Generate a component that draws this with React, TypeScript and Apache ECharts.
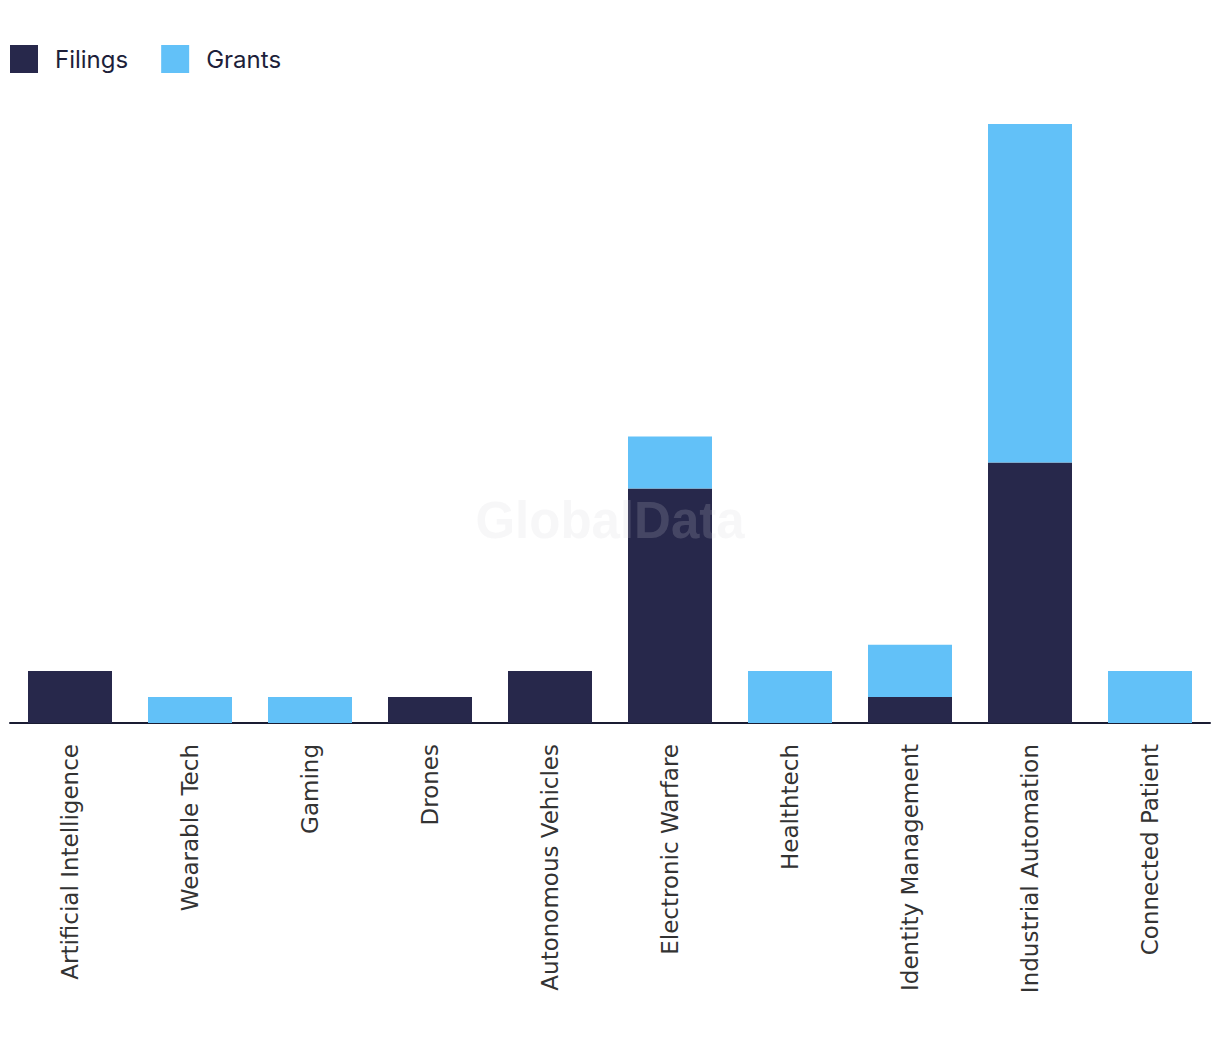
import React, { useEffect, useRef } from "react";
import * as echarts from "echarts";

const categories = [
  "Artificial Intelligence",
  "Wearable Tech",
  "Gaming",
  "Drones",
  "Autonomous Vehicles",
  "Electronic Warfare",
  "Healthtech",
  "Identity Management",
  "Industrial Automation",
  "Connected Patient",
];
const filings = [2, 0, 0, 1, 2, 9, 0, 1, 10, 0];
const grants = [0, 1, 1, 0, 0, 2, 2, 2, 13, 2];

export default function App() {
  const ref = useRef<HTMLDivElement>(null);
  useEffect(() => {
    if (!ref.current) return;
    const chart = echarts.init(ref.current, undefined, { renderer: "svg" });
    chart.setOption({
      animation: false,
      legend: {
        left: 10,
        top: 45,
        padding: 0,
        itemWidth: 28,
        itemHeight: 28,
        itemGap: 33,
        icon: "rect",
        textStyle: {
          fontFamily: "Inter, 'Noto Sans', sans-serif",
          fontSize: 24,
          color: "#1d1f3a",
          padding: [0, 0, 0, 12],
        },
        data: ["Filings", "Grants"],
      },
      grid: { left: 10, right: 10, top: 124, bottom: 319, containLabel: false },
      xAxis: {
        type: "category",
        data: categories,
        axisLine: { lineStyle: { color: "#1a1c33", width: 2 } },
        axisTick: { show: false },
        axisLabel: {
          rotate: 90,
          interval: 0,
          margin: 21,
          fontFamily: "'DejaVu Sans', sans-serif",
          fontSize: 23,
          color: "#333333",
        },
      },
      yAxis: { type: "value", min: 0, max: 23, show: false, splitLine: { show: false } },
      series: [
        {
          name: "Filings",
          type: "bar",
          stack: "a",
          barWidth: 84,
          itemStyle: { color: "#27284b" },
          data: filings,
        },
        {
          name: "Grants",
          type: "bar",
          stack: "a",
          barWidth: 84,
          itemStyle: { color: "#62c1f8" },
          data: grants,
        },
      ],
      graphic: [
        {
          type: "text",
          left: "center",
          top: 495,
          z: 100,
          style: {
            text: "GlobalData",
            font: "bold 51px 'Liberation Sans', Arial, sans-serif",
            fill: "rgba(210,210,215,0.18)",
          },
        },
      ],
    });
    return () => chart.dispose();
  }, []);
  return (
    <div
      ref={ref}
      style={{ position: "absolute", left: 0, top: 0, width: 1220, height: 1042 }}
    />
  );
}
